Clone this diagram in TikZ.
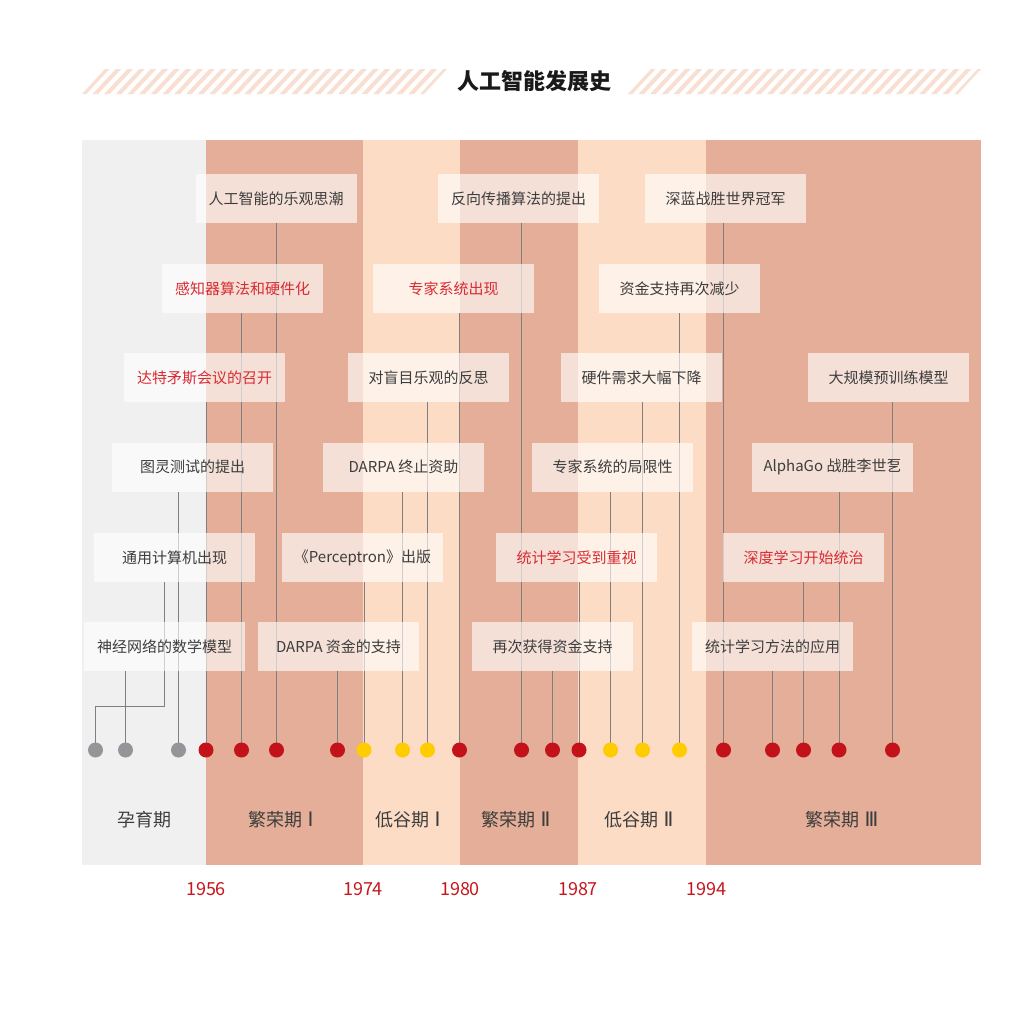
\documentclass[tikz,border=0pt]{standalone}
\usepackage{fontspec}
\setmainfont{Noto Sans CJK SC}
\newfontfamily\romfont{DejaVu Sans}
\definecolor{bggray}{HTML}{F0F0F0}
\definecolor{salmon}{HTML}{E4AE98}
\definecolor{peach}{HTML}{FCDCC4}
\definecolor{hatch}{HTML}{F8DFD2}
\definecolor{linegray}{HTML}{7F7F7F}
\definecolor{dotgray}{HTML}{939598}
\definecolor{dotred}{HTML}{C4121A}
\definecolor{dotyellow}{HTML}{FFCC00}
\definecolor{txt}{HTML}{3D3D3D}
\definecolor{redtxt}{HTML}{D92B33}
\definecolor{yeartxt}{HTML}{C8161D}
\pgfdeclarelayer{bands}
\pgfdeclarelayer{lines}
\pgfsetlayers{bands,lines,main}
\newcommand{\rn}[1]{\hspace{5pt}{\romfont\fontsize{20}{22}\selectfont #1}}
\begin{document}
\begin{tikzpicture}[x=1pt,y=-1pt,
  lbl/.style={fill=white,fill opacity=0.62,text opacity=1,minimum width=161pt,minimum height=49pt,inner sep=0pt,font=\fontsize{15}{18}\selectfont,text=txt},
  redlbl/.style={lbl,text=redtxt},
  dotbase/.style={circle,minimum size=15pt,inner sep=0pt},
  dg/.style={dotbase,fill=dotgray},
  dr/.style={dotbase,fill=dotred},
  dy/.style={dotbase,fill=dotyellow},
  conn/.style={draw=linegray,line width=0.9pt},
  period/.style={font=\fontsize{18}{20}\selectfont,text=txt},
  year/.style={font=\fontsize{18}{20}\selectfont,text=yeartxt},
  stripe/.style={draw=hatch,line width=4pt}
]
\begin{pgfonlayer}{bands}
\useasboundingbox (0,0) rectangle (1030,1020);
\fill[white] (0,0) rectangle (1030,1020);
% title hatch bands
\begin{scope}
\clip (82,94) -- (105,69) -- (447,69) -- (424,94) -- cycle;
\foreach \i in {0,...,32} {\draw[stripe] (70+\i*11.7,96) -- (97+\i*11.7,67);}
\end{scope}
\begin{scope}
\clip (628,94) -- (651,69) -- (981,69) -- (958,94) -- cycle;
\foreach \i in {0,...,32} {\draw[stripe] (616+\i*11.7,96) -- (643+\i*11.7,67);}
\end{scope}
% period bands
\fill[bggray] (82,140) rectangle (206,865);
\fill[salmon] (206,140) rectangle (363,865);
\fill[peach] (363,140) rectangle (460,865);
\fill[salmon] (460,140) rectangle (578,865);
\fill[peach] (578,140) rectangle (706,865);
\fill[salmon] (706,140) rectangle (981,865);
\end{pgfonlayer}

\node[font=\fontsize{22}{25}\selectfont\bfseries,text=black!90] (title) at (534,81) {人工智能发展史};

% period labels
\node[period] (p1) at (144,820) {孕育期};
\node[period] (p2) at (281,820) {繁荣期\rn{Ⅰ}};
\node[period] (p3) at (408,820) {低谷期\rn{Ⅰ}};
\node[period] (p4) at (516,820) {繁荣期\rn{Ⅱ}};
\node[period] (p5) at (639,820) {低谷期\rn{Ⅱ}};
\node[period] (p6) at (842,820) {繁荣期\rn{Ⅲ}};

% years
\node[year] (yr1) at (206,889) {1956};
\node[year] (yr2) at (363,889) {1974};
\node[year] (yr3) at (460,889) {1980};
\node[year] (yr4) at (578,889) {1987};
\node[year] (yr5) at (706,889) {1994};

% dots
\node[dg] (g1) at (95.5,750) {};
\node[dg] (g2) at (125.5,750) {};
\node[dg] (g3) at (178.5,750) {};
\node[dr] (r1) at (206,750) {};
\node[dr] (r2) at (241.5,750) {};
\node[dr] (r3) at (276.5,750) {};
\node[dr] (r4) at (337.5,750) {};
\node[dy] (y1) at (364,750) {};
\node[dy] (y2) at (402.5,750) {};
\node[dy] (y3) at (427.5,750) {};
\node[dr] (r5) at (459.5,750) {};
\node[dr] (r6) at (521.5,750) {};
\node[dr] (r7) at (552.5,750) {};
\node[dr] (r8) at (579,750) {};
\node[dy] (y4) at (610.5,750) {};
\node[dy] (y5) at (642.5,750) {};
\node[dy] (y6) at (679.5,750) {};
\node[dr] (r9) at (723.5,750) {};
\node[dr] (r10) at (772.5,750) {};
\node[dr] (r11) at (803.5,750) {};
\node[dr] (r12) at (839,750) {};
\node[dr] (r13) at (892.5,750) {};

% boxes
\node[lbl] (b11) at (276,198.5) {人工智能的乐观思潮};
\node[lbl] (b12) at (518.5,198.5) {反向传播算法的提出};
\node[lbl] (b13) at (725.5,198.5) {深蓝战胜世界冠军};
\node[redlbl] (b21) at (242.5,288.5) {感知器算法和硬件化};
\node[redlbl] (b22) at (453.5,288.5) {专家系统出现};
\node[lbl] (b23) at (679.5,288.5) {资金支持再次减少};
\node[redlbl] (b31) at (204.5,377.5) {达特矛斯会议的召开};
\node[lbl] (b32) at (428.5,377.5) {对盲目乐观的反思};
\node[lbl] (b33) at (641.5,377.5) {硬件需求大幅下降};
\node[lbl] (b34) at (888.5,377.5) {大规模预训练模型};
\node[lbl] (b41) at (192.5,467) {图灵测试的提出};
\node[lbl] (b42) at (403.5,467) {DARPA 终止资助};
\node[lbl] (b43) at (612.5,467) {专家系统的局限性};
\node[lbl] (b44) at (832.5,467) {AlphaGo 战胜李世乭};
\node[lbl] (b51) at (174.5,557.5) {通用计算机出现};
\node[lbl] (b52) at (362.5,557.5) {《Perceptron》出版};
\node[redlbl] (b53) at (576.5,557.5) {统计学习受到重视};
\node[redlbl] (b54) at (803.5,557.5) {深度学习开始统治};
\node[lbl] (b61) at (164.5,646.5) {神经网络的数学模型};
\node[lbl] (b62) at (338.5,646.5) {DARPA 资金的支持};
\node[lbl] (b63) at (552.5,646.5) {再次获得资金支持};
\node[lbl] (b64) at (772.5,646.5) {统计学习方法的应用};

% connectors, behind boxes and dots
\coordinate (elbow) at (164.5,706.5);
\begin{pgfonlayer}{lines}
\draw[conn] (g1.center) |- (elbow) -- (elbow |- b51.south);
\draw[conn] (g2.center) -- (g2 |- b61.south);
\draw[conn] (g3.center) -- (g3 |- b41.south);
\draw[conn] (r1.center) -- (r1 |- b31.south);
\draw[conn] (r2.center) -- (r2 |- b21.south);
\draw[conn] (r3.center) -- (r3 |- b11.south);
\draw[conn] (r4.center) -- (r4 |- b62.south);
\draw[conn] (y1.center) -- (y1 |- b52.south);
\draw[conn] (y2.center) -- (y2 |- b42.south);
\draw[conn] (y3.center) -- (y3 |- b32.south);
\draw[conn] (r5.center) -- (r5 |- b22.south);
\draw[conn] (r6.center) -- (r6 |- b12.south);
\draw[conn] (r7.center) -- (r7 |- b63.south);
\draw[conn] (r8.center) -- (r8 |- b53.south);
\draw[conn] (y4.center) -- (y4 |- b43.south);
\draw[conn] (y5.center) -- (y5 |- b33.south);
\draw[conn] (y6.center) -- (y6 |- b23.south);
\draw[conn] (r9.center) -- (r9 |- b13.south);
\draw[conn] (r10.center) -- (r10 |- b64.south);
\draw[conn] (r11.center) -- (r11 |- b54.south);
\draw[conn] (r12.center) -- (r12 |- b44.south);
\draw[conn] (r13.center) -- (r13 |- b34.south);
\end{pgfonlayer}
\end{tikzpicture}
\end{document}
